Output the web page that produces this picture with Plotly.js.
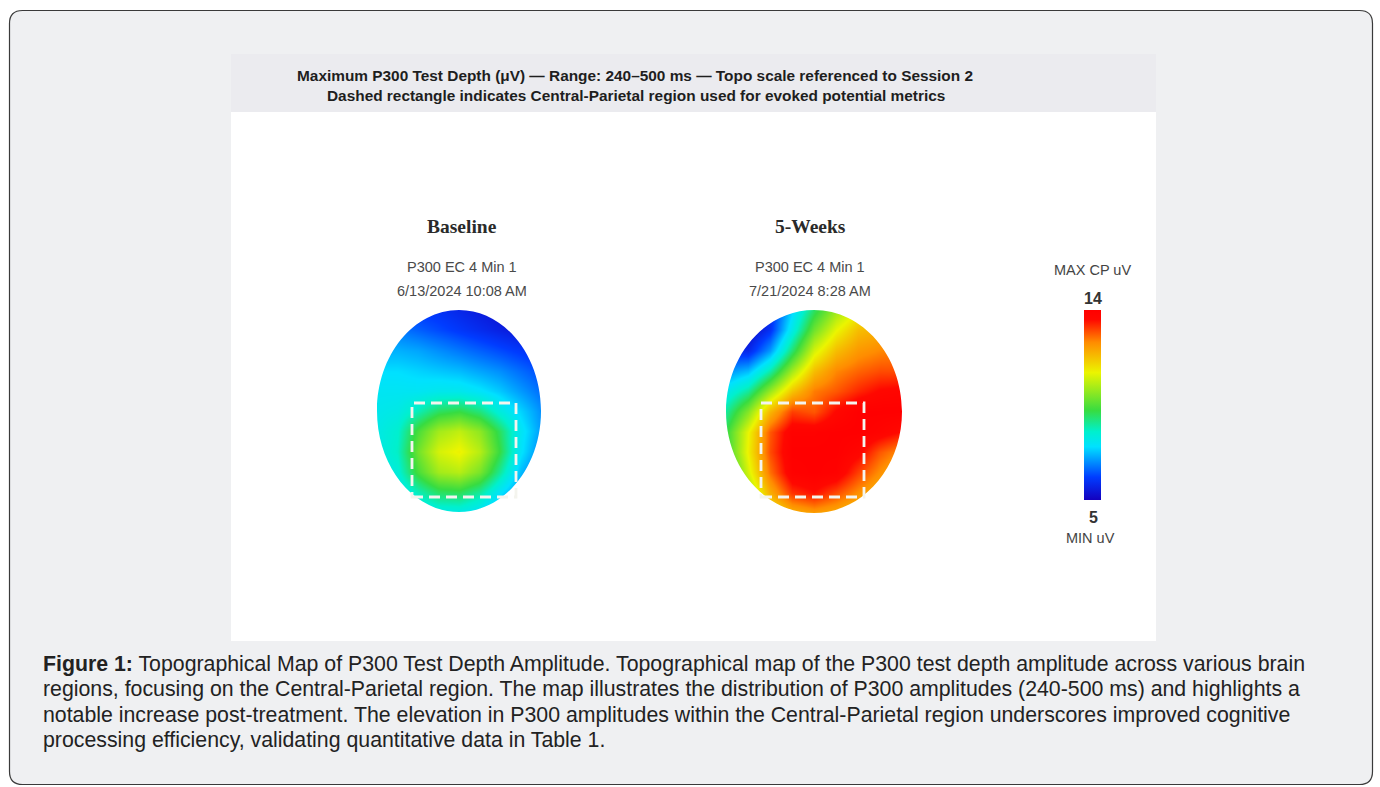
<!DOCTYPE html>
<html>
<head>
<meta charset="utf-8">
<script src="https://cdn.plot.ly/plotly-3.0.1.min.js"></script>
<style>
  html, body { margin: 0; padding: 0; background: #ffffff; }
  #chart { width: 1380px; height: 787px; }
</style>
</head>
<body>
<div id="chart"></div>
<script>
// ---------------- DATA ----------------
const panelTitles = ['Baseline', '5-Weeks'];
const panelProtocols = ['P300 EC 4 Min 1', 'P300 EC 4 Min 1'];
const panelDates = ['6/13/2024 10:08 AM', '7/21/2024 8:28 AM'];
const scaleMin = 5;
const scaleMax = 14;
const scaleTopLabel = 'MAX CP uV';
const scaleBottomLabel = 'MIN uV';
const headerLines = [
  'Maximum P300 Test Depth (μV) — Range: 240–500 ms — Topo scale referenced to Session 2',
  'Dashed rectangle indicates Central-Parietal region used for evoked potential metrics'
];
// Estimated amplitude (µV) on a 9 x 11 grid (columns left->right, rows front->back of head)
const baselineZ = [
  [6.2, 6.2, 6.0, 5.9, 5.7, 5.5, 5.3, 5.2, 5.1],
  [6.6, 6.6, 6.4, 6.2, 6.0, 5.8, 5.6, 5.4, 5.3],
  [7.1, 7.1, 7.0, 6.8, 6.6, 6.4, 6.2, 6.0, 5.8],
  [7.5, 7.5, 7.4, 7.3, 7.2, 7.0, 6.8, 6.5, 6.2],
  [7.7, 7.7, 7.7, 7.8, 7.8, 7.6, 7.3, 6.9, 6.5],
  [7.8, 7.9, 8.4, 9.0, 9.2, 8.8, 8.0, 7.4, 6.8],
  [7.9, 8.2, 9.4, 10.3, 10.6, 10.1, 9.0, 7.7, 6.9],
  [7.9, 8.3, 9.8, 10.8, 11.1, 10.5, 9.2, 7.6, 6.7],
  [7.7, 8.1, 9.4, 10.3, 10.5, 9.9, 8.6, 7.2, 6.4],
  [7.5, 7.7, 8.4, 9.0, 9.1, 8.6, 7.6, 6.8, 6.2],
  [7.2, 7.4, 7.7, 7.9, 7.9, 7.6, 7.0, 6.5, 6.0]
];
const weeks5Z = [
  [5.0, 5.1, 5.8, 7.4, 9.0, 10.2, 11.0, 11.5, 11.5],
  [5.0, 5.1, 5.9, 7.9, 9.8, 11.0, 11.8, 12.0, 12.0],
  [5.8, 5.7, 6.9, 8.9, 10.8, 11.8, 12.3, 12.5, 12.6],
  [6.8, 7.2, 8.5, 10.3, 11.8, 12.5, 12.8, 13.0, 13.0],
  [7.8, 8.6, 10.2, 11.7, 12.6, 12.9, 13.3, 13.6, 13.7],
  [8.6, 10.0, 11.9, 13.1, 12.9, 13.6, 14.0, 14.0, 14.0],
  [9.2, 11.0, 12.9, 13.9, 13.9, 14.0, 14.0, 13.8, 13.5],
  [9.2, 11.1, 13.0, 14.0, 14.0, 14.0, 13.7, 12.9, 12.4],
  [8.8, 10.8, 12.7, 13.9, 14.0, 13.9, 13.1, 12.4, 11.8],
  [8.2, 10.1, 12.0, 13.2, 13.5, 13.0, 12.4, 11.8, 11.3],
  [7.8, 9.4, 11.0, 11.9, 12.2, 12.0, 11.6, 11.2, 11.0]
];
const captionBold = 'Figure 1:';
const captionLines = [
  ' Topographical Map of P300 Test Depth Amplitude. Topographical map of the P300 test depth amplitude across various brain',
  'regions, focusing on the Central-Parietal region. The map illustrates the distribution of P300 amplitudes (240-500 ms) and highlights a',
  'notable increase post-treatment. The elevation in P300 amplitudes within the Central-Parietal region underscores improved cognitive',
  'processing efficiency, validating quantitative data in Table 1.'
];

// ---------------- LAYOUT HELPERS ----------------
const W = 1380, H = 787;
const px = x => x / W;
const py = y => 1 - y / H;

const jet = [
  [0.00, 'rgb(20,0,190)'],
  [0.12, 'rgb(0,60,255)'],
  [0.28, 'rgb(0,225,255)'],
  [0.36, 'rgb(0,240,205)'],
  [0.47, 'rgb(55,220,65)'],
  [0.67, 'rgb(235,245,0)'],
  [0.83, 'rgb(255,140,0)'],
  [0.95, 'rgb(255,8,0)'],
  [1.00, 'rgb(255,0,0)']
];

// panel geometry in pixels
const panels = [
  { x0: 377, x1: 541, y0: 310, y1: 512, box: [412, 403, 516, 497], cx: 462 },
  { x0: 726, x1: 902, y0: 310, y1: 513, box: [761, 403, 864, 497], cx: 810 }
];

function roundedRectPaper(x0, y0, x1, y1, r) {
  const rx = r / W, ry = r / H;
  const X0 = px(x0), X1 = px(x1), Y0 = py(y0), Y1 = py(y1);
  return `M${X0 + rx},${Y0} L${X1 - rx},${Y0} Q${X1},${Y0} ${X1},${Y0 - ry} ` +
    `L${X1},${Y1 + ry} Q${X1},${Y1} ${X1 - rx},${Y1} L${X0 + rx},${Y1} ` +
    `Q${X0},${Y1} ${X0},${Y1 + ry} L${X0},${Y0 - ry} Q${X0},${Y0} ${X0 + rx},${Y0} Z`;
}

function ellipseMask(nx, ny) {
  const cx = (nx - 1) / 2, cy = (ny - 1) / 2, rx = (nx - 1) / 2, ry = (ny - 1) / 2;
  const k = 0.5523;
  const e = 0.3;
  const outer = `M${-e},${-e} L${nx - 1 + e},${-e} L${nx - 1 + e},${ny - 1 + e} L${-e},${ny - 1 + e} Z `;
  const ell = `M${cx + rx},${cy} ` +
    `C${cx + rx},${cy - k * ry} ${cx + k * rx},${cy - ry} ${cx},${cy - ry} ` +
    `C${cx - k * rx},${cy - ry} ${cx - rx},${cy - k * ry} ${cx - rx},${cy} ` +
    `C${cx - rx},${cy + k * ry} ${cx - k * rx},${cy + ry} ${cx},${cy + ry} ` +
    `C${cx + k * rx},${cy + ry} ${cx + rx},${cy + k * ry} ${cx + rx},${cy} Z`;
  return outer + ell;
}

const zs = [baselineZ, weeks5Z];
const traces = zs.map((z, i) => ({
  type: 'heatmap',
  z: z,
  zsmooth: 'best',
  coloraxis: 'coloraxis',
  xaxis: i === 0 ? 'x' : 'x2',
  yaxis: i === 0 ? 'y' : 'y2',
  hoverinfo: 'skip'
}));

const nx = baselineZ[0].length, ny = baselineZ.length;

const layout = {
  width: W, height: H,
  margin: { l: 0, r: 0, t: 0, b: 0, pad: 0 },
  paper_bgcolor: '#ffffff',
  plot_bgcolor: 'rgba(0,0,0,0)',
  showlegend: false,
  coloraxis: {
    cmin: scaleMin, cmax: scaleMax,
    colorscale: jet,
    colorbar: {
      thicknessmode: 'pixels', thickness: 17,
      lenmode: 'pixels', len: 190,
      x: px(1084), xanchor: 'left', xpad: 0,
      y: py(405), yanchor: 'middle', ypad: 0,
      outlinewidth: 0,
      showticklabels: false, ticks: ''
    }
  },
  shapes: [],
  annotations: []
};

panels.forEach((p, i) => {
  const s = i === 0 ? '' : '2';
  layout['xaxis' + s] = {
    domain: [px(p.x0), px(p.x1)], range: [0, nx - 1], visible: false, fixedrange: true,
    anchor: 'y' + s
  };
  layout['yaxis' + s] = {
    domain: [py(p.y1), py(p.y0)], range: [ny - 1, 0], visible: false, fixedrange: true,
    anchor: 'x' + s
  };
});

// card background
layout.shapes.push({
  type: 'path', xref: 'paper', yref: 'paper', layer: 'below',
  path: roundedRectPaper(9.5, 10.5, 1372.5, 784.5, 13),
  fillcolor: '#eff0f2', line: { color: '#3a3a3a', width: 1.2 }
});
// white figure area
layout.shapes.push({
  type: 'rect', xref: 'paper', yref: 'paper', layer: 'below',
  x0: px(231), x1: px(1156), y0: py(641), y1: py(54),
  fillcolor: '#ffffff', line: { width: 0 }
});
// header band
layout.shapes.push({
  type: 'rect', xref: 'paper', yref: 'paper', layer: 'below',
  x0: px(231), x1: px(1156), y0: py(112), y1: py(54),
  fillcolor: '#ebebef', line: { width: 0 }
});

panels.forEach((p, i) => {
  const s = i === 0 ? '' : '2';
  layout.shapes.push({
    type: 'path', xref: 'x' + s, yref: 'y' + s, layer: 'above',
    path: ellipseMask(nx, ny), fillrule: 'evenodd',
    fillcolor: '#ffffff', line: { width: 0 }
  });
  layout.shapes.push({
    type: 'rect', xref: 'paper', yref: 'paper', layer: 'above',
    x0: px(p.box[0]), x1: px(p.box[2]), y0: py(p.box[3]), y1: py(p.box[1]),
    line: { color: '#f4f4ee', width: 2.8, dash: '11px,6px' },
    fillcolor: 'rgba(0,0,0,0)'
  });
  layout.annotations.push({
    xref: 'paper', yref: 'paper', x: px(p.cx), y: py(226), xanchor: 'center', yanchor: 'middle',
    text: '<b>' + panelTitles[i] + '</b>', showarrow: false,
    font: { family: 'Liberation Serif, serif', size: 19.5, color: '#2a2a2a' }
  });
  layout.annotations.push({
    xref: 'paper', yref: 'paper', x: px(p.cx), y: py(267), xanchor: 'center', yanchor: 'middle',
    text: panelProtocols[i], showarrow: false,
    font: { family: 'Liberation Sans, Arial, sans-serif', size: 14.5, color: '#4a4a4a' }
  });
  layout.annotations.push({
    xref: 'paper', yref: 'paper', x: px(p.cx), y: py(291), xanchor: 'center', yanchor: 'middle',
    text: panelDates[i], showarrow: false,
    font: { family: 'Liberation Sans, Arial, sans-serif', size: 14.5, color: '#4a4a4a' }
  });
});

// header text
const headerY = [75, 95];
const headerX = [635, 636];
headerLines.forEach((t, i) => {
  layout.annotations.push({
    xref: 'paper', yref: 'paper', x: px(headerX[i]), y: py(headerY[i]),
    xanchor: 'center', yanchor: 'middle', text: '<b>' + t + '</b>', showarrow: false,
    font: { family: 'Liberation Sans, Arial, sans-serif', size: 15.4, color: '#1e1e1e' }
  });
});

// colour scale labels
layout.annotations.push(
  { xref: 'paper', yref: 'paper', x: px(1092), y: py(270), xanchor: 'center', yanchor: 'middle',
    text: scaleTopLabel, showarrow: false,
    font: { family: 'Liberation Sans, Arial, sans-serif', size: 14.5, color: '#444' } },
  { xref: 'paper', yref: 'paper', x: px(1093), y: py(298), xanchor: 'center', yanchor: 'middle',
    text: '<b>' + scaleMax + '</b>', showarrow: false,
    font: { family: 'Liberation Sans, Arial, sans-serif', size: 16, color: '#333' } },
  { xref: 'paper', yref: 'paper', x: px(1093), y: py(517), xanchor: 'center', yanchor: 'middle',
    text: '<b>' + scaleMin + '</b>', showarrow: false,
    font: { family: 'Liberation Sans, Arial, sans-serif', size: 16, color: '#333' } },
  { xref: 'paper', yref: 'paper', x: px(1090), y: py(538), xanchor: 'center', yanchor: 'middle',
    text: scaleBottomLabel, showarrow: false,
    font: { family: 'Liberation Sans, Arial, sans-serif', size: 14.5, color: '#444' } }
);

// caption
const captionY = [664, 689, 715, 740];
captionLines.forEach((t, i) => {
  layout.annotations.push({
    xref: 'paper', yref: 'paper', x: px(41), y: py(captionY[i]),
    xanchor: 'left', yanchor: 'middle', align: 'left', showarrow: false,
    text: (i === 0 ? '<b>' + captionBold + '</b>' : '') + t,
    font: { family: 'Liberation Sans, Arial, sans-serif', size: 21.3, color: '#222' }
  });
});

Plotly.newPlot('chart', traces, layout, { staticPlot: true, displayModeBar: false });
</script>
</body>
</html>
